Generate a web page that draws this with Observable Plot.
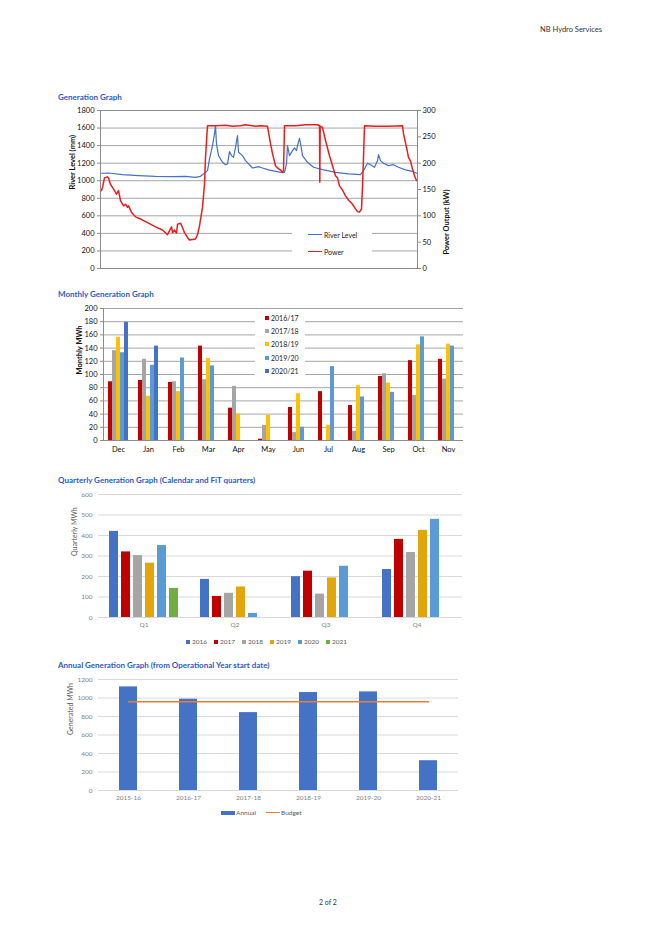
<!DOCTYPE html>
<html><head><meta charset="utf-8">
<script src="https://cdn.jsdelivr.net/npm/d3@7"></script>
<script src="https://cdn.jsdelivr.net/npm/@observablehq/plot@0.6"></script>
<style>
body{margin:0;background:#fff;font-family:Lato,"Liberation Sans",sans-serif;}
#page{position:relative;width:659px;height:933px;overflow:hidden;background:#fff;}
.abs{position:absolute;}
.title{position:absolute;font-weight:bold;color:#2c5ac8;font-size:8px;white-space:nowrap;line-height:10px;}
.lg{position:absolute;background:#fff;font-size:7px;color:#222;}
.lg .it{display:flex;align-items:center;white-space:nowrap;}
.sq{display:inline-block;width:4px;height:4px;margin-right:2px;}
</style></head><body><div id="page"></div>
<script>
const FONT = "Lato, 'Liberation Sans', sans-serif";

// ---------- Generation graph (river level mm, power kW) ----------
const riverDay = [1,8,22,38,55,72,85,95,100,103,107,109,112,114,115,116,118,122,125,127,129,131,133,135,137,138,142,145,152,155,158,162,168,175,182,184,186,187,189,192,194,196,197,199,201,202,207,213,222,235,248,260,263,267,270,274,277,278,280,283,288,293,298,305,312,316];
const riverLevel = [1085,1088,1069,1058,1050,1047,1050,1039,1050,1077,1115,1248,1400,1534,1629,1419,1286,1210,1183,1191,1332,1286,1267,1381,1515,1324,1286,1229,1145,1153,1161,1145,1123,1107,1092,1096,1191,1400,1286,1343,1374,1343,1400,1484,1362,1286,1210,1153,1126,1096,1077,1069,1115,1199,1183,1153,1229,1298,1229,1199,1172,1183,1153,1123,1107,1085];
const powerDay = [1,2,4,7,8,10,12,14,16,18,20,23,25,27,28,31,35,40,43,48,55,62,67,69,71,72,74,76,77,80,82,84,87,89,92,95,97,99,102,104,105,107,115,125,132,140,145,155,160,167,170,172,175,177,180,182,183,184,195,205,217,219,219.3,219.7,222,225,229,232,235,237,239,242,245,248,252,254,257,259,261,262,263,264,275,288,302,303,306,308,310,312,314,316];
const powerKW = [148,154,172,174,172,160,154,148,141,148,129,119,122,116,119,107,98,94,91,86,79,73,64,72,79,68,73,67,84,86,78,68,59,54,55,56,64,81,116,160,211,271,271,272,270,271,273,270,271,270,237,218,195,191,187,183,186,271,271,273,273,271,164,270,268,243,214,195,176,172,157,149,138,130,122,116,108,107,113,154,211,271,270,270,271,256,230,211,204,189,176,167];
const levelTicks = [0,200,400,600,800,1000,1200,1400,1600,1800];
const powerTicks = [0,50,100,150,200,250,300];

// ---------- Monthly generation ----------
const months = ["Dec","Jan","Feb","Mar","Apr","May","Jun","Jul","Aug","Sep","Oct","Nov"];
const seasons = ["2016/17","2017/18","2018/19","2019/20","2020/21"];
const s1617 = [89,91,88,143,49,2,50,74,53,97,121,123];
const s1718 = [136,123,89,92,82,23,12,0,14,101,68,93];
const s1819 = [156,67,74,124,40,38,71,23,83,87,145,146];
const s1920 = [133,114,125,113,0,0,20,112,66,73,157,143];
const s2021 = [179,143,null,null,null,null,null,null,null,null,null,null];
const seasonColors = ["#c00000","#a5a5a5","#ffc000","#5b9bd5","#4472c4"];
const monthlyTicks = [0,20,40,60,80,100,120,140,160,180,200];

// ---------- Quarterly generation ----------
const quarters = ["Q1","Q2","Q3","Q4"];
const qYears = ["2016","2017","2018","2019","2020","2021"];
const q2016 = [420,186,199,234];
const q2017 = [320,103,226,381];
const q2018 = [302,118,114,317];
const q2019 = [265,149,193,425];
const q2020 = [351,20,250,479];
const q2021 = [142,null,null,null];
const qColors = ["#4472c4","#c00000","#a5a5a5","#e2a60a","#5b9bd5","#70ad47"];
const quarterlyTicks = [0,100,200,300,400,500,600];

// ---------- Annual generation ----------
const opYears = ["2015-16","2016-17","2017-18","2018-19","2019-20","2020-21"];
const annualMWh = [1120,987,842,1059,1066,322];
const budgetMWh = [960,960,960,960,960,960];
const annualTicks = [0,200,400,600,800,1000,1200];

// ---------- build tables ----------
const riverRows = riverDay.map((d,i)=>({day:d, level:riverLevel[i]}));
const powerRows = powerDay.map((d,i)=>({day:d, kw:powerKW[i]}));
const seasonSeries = [s1617,s1718,s1819,s1920,s2021];
const monthlyRows = months.flatMap((m,i)=>seasons.map((s,j)=>({month:m, season:s, mwh:seasonSeries[j][i]}))).filter(d=>d.mwh!=null);
const qSeries = [q2016,q2017,q2018,q2019,q2020,q2021];
const quarterlyRows = quarters.flatMap((q,i)=>qYears.map((y,j)=>({quarter:q, year:y, mwh:qSeries[j][i]}))).filter(d=>d.mwh!=null);
const annualRows = opYears.map((y,i)=>({year:y, annual:annualMWh[i], budget:budgetMWh[i]}));

const page = document.getElementById("page");
function place(el, left, top){ const w=document.createElement("div"); w.className="abs"; w.style.left=left+"px"; w.style.top=top+"px"; w.appendChild(el); page.appendChild(w); return w; }
function html(str){ const t=document.createElement("template"); t.innerHTML=str.trim(); return t.content.firstChild; }
const fmt = d => `${d}`;

// header / footer
page.appendChild(html(`<div class="abs" style="left:540px;top:25px;font-size:7.5px;color:#333;white-space:nowrap">NB Hydro Services</div>`));
page.appendChild(html(`<div class="abs" style="left:319px;top:898px;font-size:7px;color:#333;white-space:nowrap">2 of 2</div>`));

// ---------- Chart 1 ----------
page.appendChild(html(`<div class="title" style="left:58px;top:92px">Generation Graph</div>`));
const k = 1800/300;
const c1 = Plot.plot({
  width:480, height:180, marginLeft:100, marginRight:63, marginTop:10, marginBottom:12,
  style:{fontFamily:FONT, fontSize:"7.5px", color:"#111", background:"transparent"},
  x:{domain:[0,317], axis:null},
  y:{domain:[0,1800]},
  marks:[
    Plot.gridY(levelTicks, {stroke:"#a6a6a6", strokeOpacity:1}),
    Plot.frame({stroke:"#8c8c8c"}),
    Plot.axisY(levelTicks, {anchor:"left", tickSize:3, tickPadding:3, tickFormat:fmt, label:null, stroke:"#8c8c8c"}),
    Plot.axisY(powerTicks.map(p=>p*k), {anchor:"right", tickSize:3, tickPadding:2, tickFormat:d=>`${d/k}`, label:null, stroke:"#8c8c8c"}),
    Plot.line(riverRows, {x:"day", y:"level", stroke:"#4472c4", strokeWidth:1.2}),
    Plot.line(powerRows, {x:"day", y:d=>d.kw*k, stroke:"#ee1c1c", strokeWidth:1.5}),
    Plot.text(["River Level (mm)"], {text:d=>d, frameAnchor:"left", dx:-28, rotate:-90, fontWeight:"bold", fontSize:7.5}),
    Plot.text(["Power Output (kW)"], {text:d=>d, frameAnchor:"right", dx:29, rotate:-90, fontWeight:"bold", fontSize:7.5})
  ]
});
place(c1, 0, 100);
page.appendChild(html(`<div class="lg" style="left:292px;top:226px;width:80px;height:34px;">
 <div class="it" style="height:17px;padding-left:16px"><span style="display:inline-block;width:14px;height:1.5px;background:#4472c4;margin-right:2px"></span>River Level</div>
 <div class="it" style="height:17px;padding-left:16px"><span style="display:inline-block;width:14px;height:1.5px;background:#ee1c1c;margin-right:2px"></span>Power</div>
</div>`));

// ---------- Chart 2 ----------
page.appendChild(html(`<div class="title" style="left:58px;top:289px">Monthly Generation Graph</div>`));
const c2 = Plot.plot({
  width:480, height:160, marginLeft:98, marginRight:12, marginTop:8, marginBottom:20,
  style:{fontFamily:FONT, fontSize:"7.5px", color:"#111", background:"transparent"},
  fx:{domain:months, padding:0, label:null, axis:null},
  x:{domain:seasons, axis:null, paddingInner:0.04, paddingOuter:0.78},
  y:{domain:[0,200]},
  color:{domain:seasons, range:seasonColors},
  marks:[
    Plot.gridY(monthlyTicks, {stroke:"#a6a6a6", strokeOpacity:1}),
    Plot.axisY(monthlyTicks, {tickSize:3, tickPadding:3, tickFormat:fmt, label:null, stroke:"#8c8c8c"}),
    Plot.axisFx({anchor:"bottom", tickSize:0, tickPadding:6, label:null}),
    Plot.barY(monthlyRows, {fx:"month", x:"season", y:"mwh", fill:"season"}),
    Plot.ruleY([0], {stroke:"#8c8c8c"}),
    Plot.frame({anchor:"left", stroke:"#8c8c8c", facetAnchor:"left"}),
    Plot.text(["Monthly MWh"], {text:d=>d, frameAnchor:"left", dx:-24, rotate:-90, fontWeight:"bold", fontSize:7.5, facetAnchor:"left"})
  ]
});
place(c2, 0, 300);
page.appendChild(html(`<div class="lg" style="left:255px;top:311px;width:50px;height:66px;">
 ${seasons.map((s,i)=>`<div class="it" style="height:13.3px;padding-left:10px"><span class="sq" style="background:${seasonColors[i]}"></span>${s}</div>`).join("")}
</div>`));

// ---------- Chart 3 ----------
page.appendChild(html(`<div class="title" style="left:58px;top:475px">Quarterly Generation Graph (Calendar and FiT quarters)</div>`));
const c3 = Plot.plot({
  width:480, height:145, marginLeft:98, marginRight:18, marginTop:6, marginBottom:16,
  style:{fontFamily:FONT, fontSize:"6.5px", color:"#7f7f7f", background:"transparent"},
  fx:{domain:quarters, padding:0, label:null, axis:null},
  x:{domain:qYears, axis:null, paddingInner:0.22, paddingOuter:0.84},
  y:{domain:[0,600]},
  color:{domain:qYears, range:qColors},
  marks:[
    Plot.gridY(quarterlyTicks, {stroke:"#d9d9d9", strokeOpacity:1}),
    Plot.axisY(quarterlyTicks, {tickSize:0, tickPadding:6, tickFormat:fmt, label:null}),
    Plot.axisFx({anchor:"bottom", tickSize:0, tickPadding:5, label:null}),
    Plot.barY(quarterlyRows, {fx:"quarter", x:"year", y:"mwh", fill:"year"}),
    Plot.text(["Quarterly MWh"], {text:d=>d, frameAnchor:"left", dx:-24, rotate:-90, fontSize:7, fill:"#595959", facetAnchor:"left"})
  ]
});
place(c3, 0, 488);
page.appendChild(html(`<div class="lg" style="left:186px;top:638px;display:flex;font-size:6.5px;color:#595959">
 ${qYears.map((y,i)=>`<div class="it" style="width:28px"><span class="sq" style="background:${qColors[i]}"></span>${y}</div>`).join("")}
</div>`));

// ---------- Chart 4 ----------
page.appendChild(html(`<div class="title" style="left:58px;top:660px">Annual Generation Graph (from Operational Year start date)</div>`));
const c4 = Plot.plot({
  width:480, height:134, marginLeft:98, marginRight:22, marginTop:7, marginBottom:16,
  style:{fontFamily:FONT, fontSize:"6.5px", color:"#7f7f7f", background:"transparent"},
  x:{domain:opYears, paddingInner:0.7, paddingOuter:0.35, label:null},
  y:{domain:[0,1200]},
  marks:[
    Plot.gridY(annualTicks, {stroke:"#d9d9d9", strokeOpacity:1}),
    Plot.axisY(annualTicks, {tickSize:0, tickPadding:6, tickFormat:fmt, label:null}),
    Plot.axisX({tickSize:0, tickPadding:5, label:null}),
    Plot.barY(annualRows, {x:"year", y:"annual", fill:"#4472c4"}),
    Plot.lineY(annualRows, {x:"year", y:"budget", stroke:"#ed7d31", strokeWidth:1.5}),
    Plot.text(["Generated MWh"], {text:d=>d, frameAnchor:"left", dx:-28, rotate:-90, fontSize:7, fill:"#595959"})
  ]
});
place(c4, 0, 672);
page.appendChild(html(`<div class="lg" style="left:221px;top:809px;display:flex;font-size:6.5px;color:#595959">
 <div class="it" style="width:45px"><span style="display:inline-block;width:14px;height:4px;background:#4472c4;margin-right:1px"></span>Annual</div>
 <div class="it"><span style="display:inline-block;width:14px;height:1.5px;background:#ed7d31;margin-right:1px"></span>Budget</div>
</div>`));
</script></body></html>
